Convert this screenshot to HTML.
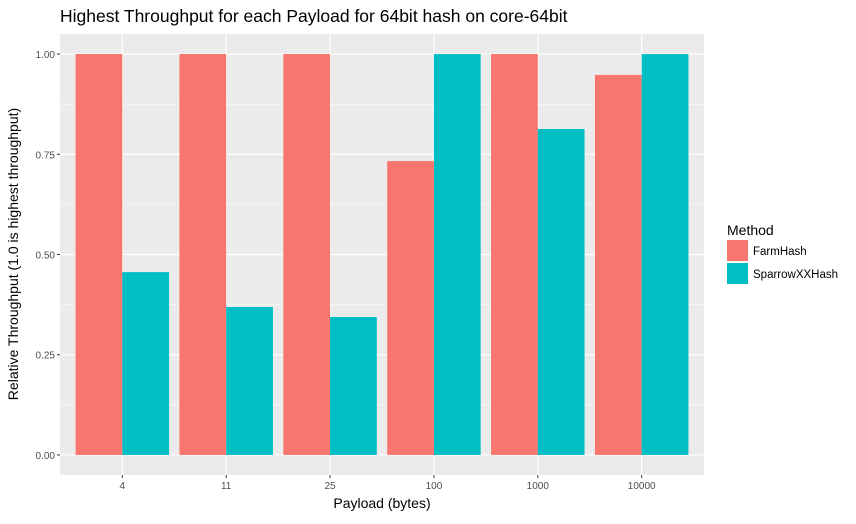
<!DOCTYPE html>
<html><head><meta charset="utf-8"><style>
body{margin:0;background:#fff;font-family:"Liberation Sans",Arial,sans-serif}
</style></head><body>
<svg id="chart" width="856" height="519" xmlns="http://www.w3.org/2000/svg" font-family="Liberation Sans, Arial, sans-serif">
<text x="60" y="22" font-size="17.5" fill="#000">Highest Throughput for each Payload for 64bit hash on core-64bit</text>
<rect x="60" y="34" width="644" height="441" fill="#EBEBEB"/>
<g id="grid"></g><g id="bars"></g><g id="axes"></g>
<text x="382" y="508" font-size="14" text-anchor="middle">Payload (bytes)</text>
<text transform="translate(18,254) rotate(-90)" font-size="14" text-anchor="middle">Relative Throughput (1.0 is highest throughput)</text>
<g>
<text x="727" y="235" font-size="14">Method</text>
<rect x="727" y="240" width="21" height="21" fill="#F8766D"/>
<text x="753" y="255" font-size="11.5">FarmHash</text>
<rect x="727" y="263" width="21" height="21" fill="#00BFC4"/>
<text x="753" y="278" font-size="11.5">SparrowXXHash</text>
</g>
</svg>
<script>
const categories=["4","11","25","100","1000","10000"];
const farmValues=[1,1,1,0.733,1,0.948];
const sparrowValues=[0.456,0.369,0.344,1,0.813,1];
const yTicks=[0,0.25,0.5,0.75,1];
const yTickLabels=["0.00","0.25","0.50","0.75","1.00"];
const NS="http://www.w3.org/2000/svg";
const px0=60,px1=704,py0=34,py1=475;
const n=categories.length;
const xs=i=>px0+(i+1-0.4)/(n+0.2)*(px1-px0);
const step=(px1-px0)/(n+0.2);
const ys=v=>py1-(v+0.05)/1.1*(py1-py0);
function mk(tag,attrs,parent){const e=document.createElementNS(NS,tag);for(const k in attrs)e.setAttribute(k,attrs[k]);document.getElementById(parent).appendChild(e);return e;}
for(let i=0;i<yTicks.length-1;i++){const v=(yTicks[i]+yTicks[i+1])/2;
const l=mk("line",{x1:px0,x2:px1,y1:ys(v),y2:ys(v),stroke:"#fff","stroke-width":0.6},"grid");

}
yTicks.forEach((v,i)=>{const l=mk("line",{x1:px0,x2:px1,y1:ys(v),y2:ys(v),stroke:"#fff","stroke-width":1.2},"grid");


const t=mk("text",{x:px0-5,y:ys(v)+4,"font-size":"10","text-anchor":"end",fill:"#4d4d4d"},"axes");t.textContent=yTickLabels[i];


const tk=mk("line",{x1:px0-3,x2:px0,y1:ys(v),y2:ys(v),stroke:"#333"},"axes");

});
categories.forEach((c,i)=>{const x=xs(i);
const g=mk("line",{x1:x,x2:x,y1:py0,y2:py1,stroke:"#fff","stroke-width":1.2},"grid");


const w=step*0.45;
const b1=mk("rect",{x:x-w,y:ys(farmValues[i]),width:w,height:ys(0)-ys(farmValues[i]),fill:"#F8766D"},"bars");


const b2=mk("rect",{x:x,y:ys(sparrowValues[i]),width:w,height:ys(0)-ys(sparrowValues[i]),fill:"#00BFC4"},"bars");


const tk=mk("line",{x1:x,x2:x,y1:py1,y2:py1+3,stroke:"#333"},"axes");


const t=mk("text",{x:x,y:py1+14,"font-size":"10","text-anchor":"middle",fill:"#4d4d4d"},"axes");t.textContent=c;

});
</script>
</body></html>
